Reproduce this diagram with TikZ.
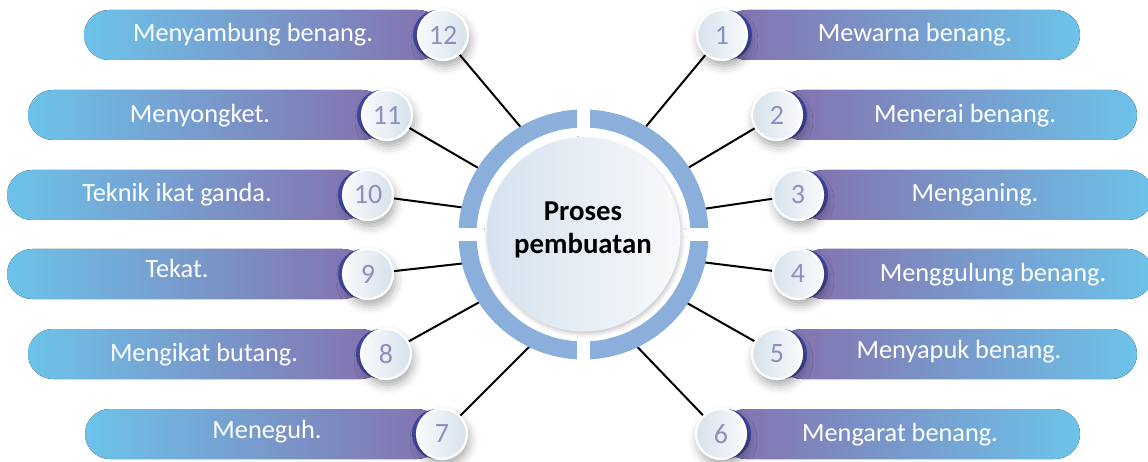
\documentclass[tikz,border=0pt]{standalone}
\usepackage{fontspec}
\setmainfont{Carlito}
\usetikzlibrary{shadows.blur}
\definecolor{pillpurple}{HTML}{8470AE}
\definecolor{pillblue}{HTML}{6CC3E9}
\definecolor{crescentblue}{HTML}{3F47A3}
\definecolor{ringblue}{HTML}{8AAFDB}
\definecolor{numcol}{HTML}{8D90BC}
\definecolor{circdark}{HTML}{D6E2EC}
\definecolor{circlight}{HTML}{F9FAFC}
\definecolor{discdark}{HTML}{D5E2EE}
\definecolor{disclight}{HTML}{F8F9FB}
\tikzset{
  pillshape/.style={rounded corners=25pt},
  numR/.style={circle, minimum size=50pt, inner sep=0pt, draw=white, line width=2.2pt,
    left color=circdark, right color=circlight, text=numcol,
    font=\fontsize{28}{30}\selectfont,
    blur shadow={shadow xshift=2pt, shadow yshift=-6pt, shadow opacity=35, shadow blur radius=9pt}},
  numL/.style={numR, left color=circlight, right color=circdark},
  pilltext/.style={text=white, anchor=base, inner sep=0pt, font=\fontsize{26.3}{30}\selectfont},
  conn/.style={line width=2pt, black},
}
% #1 num, #2 cx, #3 cy, #4 pill end x, #5 text x, #6 text baseline y, #7 text, #8 ring angle
\newcommand{\ritem}[8]{%
  \fill[left color=pillpurple, right color=pillblue, pillshape] (#2,#3-25) rectangle (#4,#3+25);
  \fill[crescentblue] (#2+5,#3) circle (25);
  \node[numR] (n#1) at (#2,#3) {#1};
  \node[pilltext] (t#1) at (#5,#6) {#7};
  \path (c) ++(#8:124) coordinate (r#1);
  \draw[conn] (n#1) -- (r#1);
}
\newcommand{\litem}[8]{%
  \fill[left color=pillblue, right color=pillpurple, pillshape] (#4,#3-25) rectangle (#2,#3+25);
  \fill[crescentblue] (#2-5,#3) circle (25);
  \node[numL] (n#1) at (#2,#3) {#1};
  \node[pilltext] (t#1) at (#5,#6) {#7};
  \path (c) ++(#8:124) coordinate (r#1);
  \draw[conn] (n#1) -- (r#1);
}
\begin{document}
\begin{tikzpicture}[x=1pt,y=-1pt]
\useasboundingbox (0,0) rectangle (1148,462);
\coordinate (c) at (583.5,234.5);
% items
\ritem{1}{722}{35}{1080}{915}{42}{Mewarna benang.}{-60}
\ritem{2}{777}{115}{1137}{965}{123}{Menerai benang.}{-32.5}
\ritem{3}{798}{195}{1153}{975}{202}{Menganing.}{-12}
\ritem{4}{798}{274}{1153}{993}{282}{Menggulung benang.}{13}
\ritem{5}{777}{354}{1137}{959}{358}{Menyapuk benang.}{33.5}
\ritem{6}{721}{434}{1080}{900}{441}{Mengarat benang.}{64.5}
\litem{12}{443}{35}{84}{253}{42}{Menyambung benang.}{-120.3}
\litem{11}{387}{115}{28}{200}{123}{Menyongket.}{-147.7}
\litem{10}{368}{195}{7}{177}{202}{Teknik ikat ganda.}{-167.4}
\litem{9}{368}{274}{7}{177}{277}{Tekat.}{-193.5}
\litem{8}{386}{354}{28}{204}{361}{Mengikat butang.}{-213}
\litem{7}{442}{434}{85}{267}{438}{Meneguh.}{-244.3}
% centre
\fill[ringblue, even odd rule] (c) circle (125) (c) circle (107);
\fill[white] (577,100) rectangle (590,370);
\fill[white] (450,228) rectangle (717,241.5);
\path[left color=discdark, right color=disclight,
  blur shadow={shadow xshift=1.5pt, shadow yshift=-2.5pt, shadow opacity=22, shadow blur radius=4pt}]
  (c) circle (97);
\node[font=\bfseries\fontsize{28.8}{33}\selectfont, align=center, inner sep=0pt] (title) at (583,230) {Proses\\pembuatan};
\end{tikzpicture}
\end{document}
